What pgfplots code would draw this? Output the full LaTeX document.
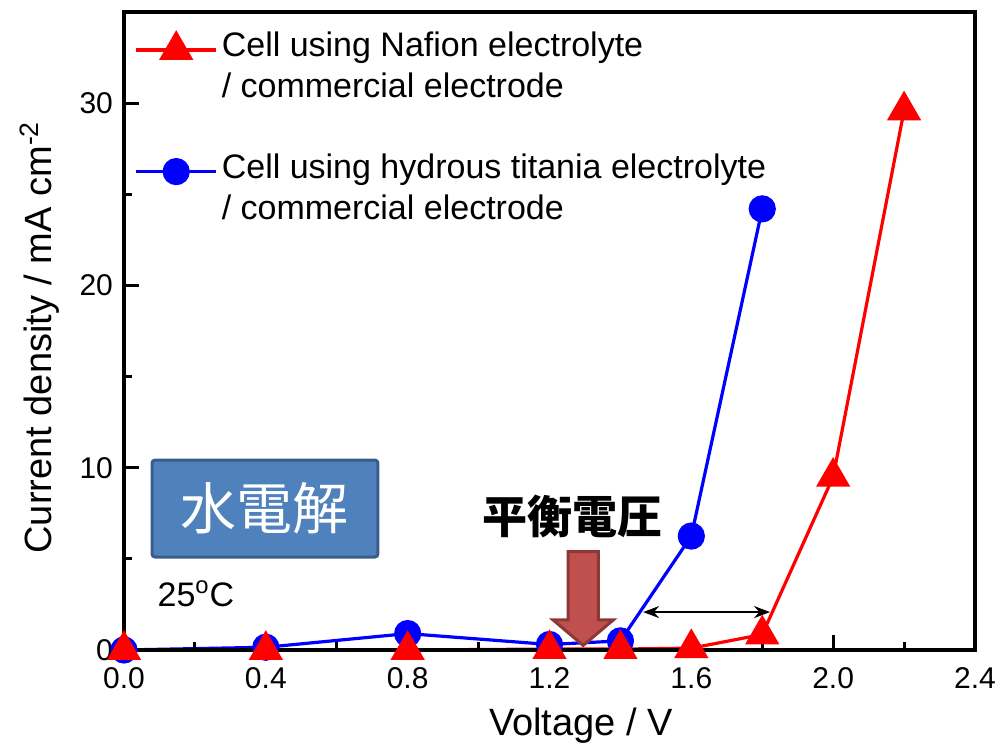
\documentclass[border=0pt]{standalone}
\usepackage{pgfplots}
\pgfplotsset{compat=1.18}
\usepackage{fontspec}
\setmainfont{Liberation Sans}
\newfontfamily\cjk{Noto Sans CJK JP}
\usetikzlibrary{arrows.meta}
\definecolor{boxblue}{RGB}{79,129,189}
\definecolor{boxedge}{RGB}{56,93,138}
\definecolor{arrred}{RGB}{192,80,77}
\definecolor{arredge}{RGB}{140,56,54}
\begin{document}
\begin{tikzpicture}
\begin{axis}[
  at={(0,0)}, anchor=south west,
  scale only axis, width=425.5pt, height=319pt,
  xmin=0, xmax=2.4, ymin=0, ymax=35,
  xtick={0,0.4,0.8,1.2,1.6,2.0,2.4},
  xticklabels={0.0,0.4,0.8,1.2,1.6,2.0,2.4},
  ytick={0,10,20,30},
  minor x tick num=1, minor y tick num=1,
  tick align=inside, tick pos=left,
  major tick length=7.5pt, minor tick length=4pt,
  axis line style={line width=1.75pt},
  every tick/.style={black, line width=1.5pt},
  /pgf/number format/assume math mode=true,
  tick label style={font=\fontsize{15pt}{18pt}\selectfont},
  xticklabel style={yshift=-5pt},
  yticklabel style={xshift=-2pt},
  xlabel={Voltage / V},
  ylabel={Current density / mA cm\textsuperscript{-2}},
  label style={font=\fontsize{19pt}{22pt}\selectfont},
  xlabel style={at={(axis description cs:0.537,-0.118)}, anchor=center},
  ylabel style={at={(axis description cs:-0.099,0.49)}, anchor=center},
  clip=false, axis on top,
  reverse legend,
  legend cell align=left,
  legend style={draw=none, fill=none, at={(axis description cs:0.012,0.975)}, anchor=north west,
    font=\fontsize{17pt}{20.5pt}\selectfont, row sep=43pt, inner sep=0pt,
    cells={anchor=base west}},
  legend image code/.code={\draw[mark repeat=2,mark phase=2,#1] plot coordinates {(0pt,0.35em) (20pt,0.35em) (40pt,0.35em)};},
]
\addplot[blue, line width=1.6pt, mark=*, mark size=6pt, mark options={solid, fill=blue}]
  coordinates {(0,0) (0.4,0.15) (0.8,0.9) (1.2,0.3) (1.4,0.5) (1.6,6.25) (1.8,24.2)};
\addlegendentry{\parbox[t]{12cm}{Cell using hydrous titania electrolyte\\/ commercial electrode}}
\addplot[red, line width=1.6pt, mark=triangle*, mark size=8.3pt, mark options={solid, fill=red}]
  coordinates {(0,0) (0.4,0) (0.8,0) (1.2,0.05) (1.4,0.05) (1.6,0.1) (1.8,0.85) (2.0,9.5) (2.2,29.6)};
\addlegendentry{\parbox[t]{12cm}{Cell using Nafion electrolyte\\/ commercial electrode}}
% annotation box
\draw[boxedge, line width=1.5pt, fill=boxblue, rounded corners=1.5pt]
  (axis cs:0.079,10.42) rectangle (axis cs:0.716,5.1);
\node[white, font=\cjk\fontsize{28pt}{30pt}\selectfont] at (axis cs:0.3975,7.76) {水電解};
\node[font=\fontsize{17pt}{20pt}\selectfont] at (axis cs:0.203,3.07) {25\textsuperscript{o}C};
\node[font=\cjk\bfseries\fontsize{22.5pt}{24pt}\selectfont] at (axis cs:1.266,7.3) {平衡電圧};
% fat arrow
\draw[arredge, line width=1.5pt, fill=arrred]
  (axis cs:1.2525,5.4) -- (axis cs:1.3375,5.4) -- (axis cs:1.3375,1.65) -- (axis cs:1.38,1.65)
  -- (axis cs:1.295,0.25) -- (axis cs:1.21,1.65) -- (axis cs:1.2525,1.65) -- cycle;
% double arrow
\draw[black, line width=0.9pt, {Stealth[length=8pt,width=6pt]}-{Stealth[length=8pt,width=6pt]}]
  (axis cs:1.464,2.08) -- (axis cs:1.822,2.08);
\end{axis}
\pgfresetboundingbox
\useasboundingbox (-62pt,-48.5pt) rectangle (439pt,325pt);
\end{tikzpicture}
\end{document}
